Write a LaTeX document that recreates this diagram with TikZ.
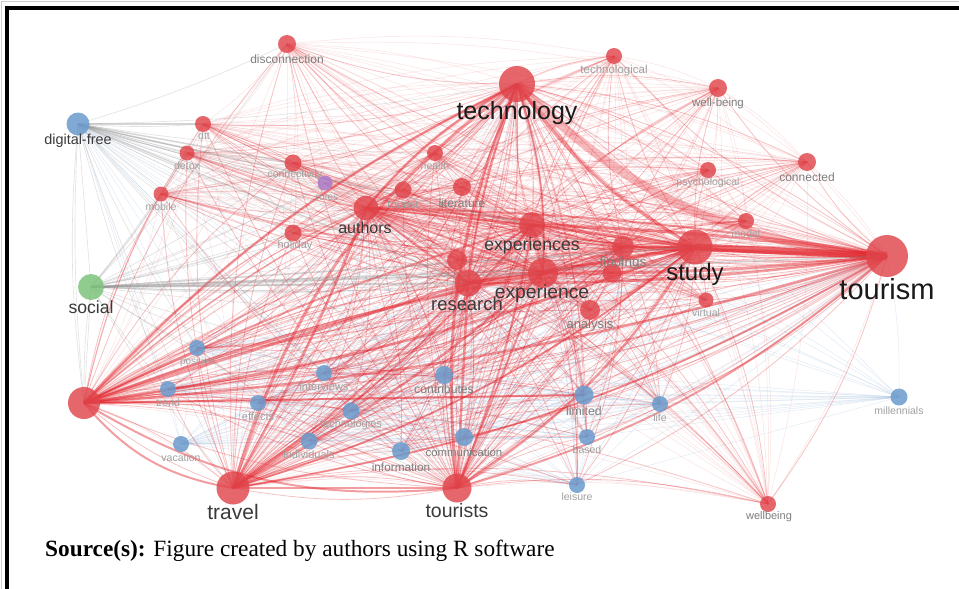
\documentclass[tikz,border=0pt]{standalone}
\usepackage{fontspec}
\setmainfont{Liberation Serif}
\setsansfont{Liberation Sans}
\usetikzlibrary{backgrounds}
\definecolor{nred}{HTML}{E0454B}
\definecolor{ered}{HTML}{E3262E}
\definecolor{nblue}{HTML}{6A9BCD}
\definecolor{eblue}{HTML}{8FB3D9}
\definecolor{ngreen}{HTML}{7CC47A}
\definecolor{npurple}{HTML}{A97BC9}
\definecolor{egray}{HTML}{8A8A8A}
\definecolor{labgray}{HTML}{A0A0A0}
\definecolor{labmid}{HTML}{7E7E7E}
\definecolor{labdark}{HTML}{3A3A3A}
\definecolor{labblack}{HTML}{1A1A1A}
\tikzset{
  rn/.style={circle, fill=nred, fill opacity=0.82, draw=none, inner sep=0pt, minimum size=#1},
  bn/.style={circle, fill=nblue, fill opacity=0.85, draw=none, inner sep=0pt, minimum size=#1},
  gn/.style={circle, fill=ngreen, fill opacity=0.85, draw=none, inner sep=0pt, minimum size=#1},
  pn/.style={circle, fill=npurple, fill opacity=0.85, draw=none, inner sep=0pt, minimum size=#1},
  lab/.style={inner sep=0pt, anchor=center, text=labgray, font=\sffamily\fontsize{#1}{#1}\selectfont},
  labm/.style={inner sep=0pt, anchor=center, text=labmid, font=\sffamily\fontsize{#1}{#1}\selectfont},
  labd/.style={inner sep=0pt, anchor=center, text=labdark, font=\sffamily\fontsize{#1}{#1}\selectfont},
  labb/.style={inner sep=0pt, anchor=center, text=labblack, font=\sffamily\fontsize{#1}{#1}\selectfont},
  efaint/.style={draw=ered, line width=0.5pt, draw opacity=0.13},
  ehub/.style={draw=ered, line width=0.8pt, draw opacity=0.28},
  eblu/.style={draw=eblue, line width=0.5pt, draw opacity=0.25},
  egry/.style={draw=egray, line width=0.6pt, draw opacity=0.25},
  eheavy/.style={draw=ered, line width=#1, draw opacity=0.45},
  egheavy/.style={draw=egray, line width=#1, draw opacity=0.35},
}
\begin{document}
\begin{tikzpicture}[x=1pt,y=-1pt]
\useasboundingbox (0,0) rectangle (959,589);

% red nodes
\node[rn=18] (disc) at (287,44) {};
\node[rn=16] (dtt) at (203,124) {};
\node[rn=15] (detox) at (187,153) {};
\node[rn=15] (mobile) at (161,194) {};
\node[rn=17] (conn) at (293,163) {};
\node[rn=17] (holiday) at (293,233) {};
\node[rn=25] (authors) at (366,208) {};
\node[rn=17] (tourist) at (403,190) {};
\node[rn=16] (health) at (435,153) {};
\node[rn=18] (lit) at (462,187) {};
\node[rn=36] (tech) at (517,84) {};
\node[rn=16] (techl) at (614,56) {};
\node[rn=18] (wb) at (718,88) {};
\node[rn=16] (psy) at (708,170) {};
\node[rn=18] (cond) at (807,162) {};
\node[rn=16] (model) at (746,221) {};
\node[rn=26] (exps) at (532,225) {};
\node[rn=20] (rr1) at (457,260) {};
\node[rn=27] (research) at (468,283) {};
\node[rn=30] (exp) at (543,273) {};
\node[rn=22] (findings) at (623,247) {};
\node[rn=19] (ff2) at (612,273) {};
\node[rn=35] (study) at (695,247) {};
\node[rn=15] (virtual) at (706,300) {};
\node[rn=20] (analysis) at (590,310) {};
\node[rn=42] (tourism) at (887,256) {};
\node[rn=32] (dig) at (84,403) {};
\node[rn=33] (travel) at (233,488) {};
\node[rn=29] (tourists) at (457,488) {};
\node[rn=16] (wellb) at (768,504) {};
\node[pn=15] (roles) at (325,183) {};
% blue nodes
\node[bn=23] (dfree) at (78,124) {};
\node[bn=16] (positive) at (197,348) {};
\node[bn=16] (trend) at (168,389) {};
\node[bn=16] (effects) at (258,403) {};
\node[bn=16] (interviews) at (324,373) {};
\node[bn=17] (technologies) at (351,411) {};
\node[bn=17] (individuals) at (309,441) {};
\node[bn=16] (vacation) at (181,444) {};
\node[bn=18] (information) at (401,451) {};
\node[bn=18] (communication) at (464,437) {};
\node[bn=18] (contributes) at (444,375) {};
\node[bn=19] (limited) at (584,395) {};
\node[bn=16] (based) at (587,437) {};
\node[bn=16] (leisure) at (577,485) {};
\node[bn=16] (life) at (660,404) {};
\node[bn=17] (mill) at (899,397) {};
% green
\node[gn=26] (social) at (91,287) {};

% labels
\node[labm=12] (l-disc) at (287,59) {disconnection};
\node[lab=10.5] (l-dtt) at (204,136) {dtt};
\node[lab=10.5] (l-detox) at (187,166) {detox};
\node[lab=10.5] (l-mobile) at (161,207) {mobile};
\node[lab=10.5] (l-conn) at (295,175) {connectivity};
\node[lab=10.5] (l-roles) at (327,197) {roles};
\node[lab=11] (l-holiday) at (295,246) {holiday};
\node[labd=16] (l-authors) at (365,228) {authors};
\node[lab=11.5] (l-tourist) at (403,204) {tourist};
\node[lab=10.5] (l-health) at (435,166) {health};
\node[labm=12] (l-lit) at (462,203) {literature};
\node[labb=25] (l-tech) at (517,113) {technology};
\node[lab=11.5] (l-techl) at (614,71) {technological};
\node[labm=11.5] (l-wb) at (718,104) {well-being};
\node[lab=10.5] (l-psy) at (708,183) {psychological};
\node[labm=12] (l-cond) at (807,177) {connected};
\node[lab=10.5] (l-model) at (746,234) {model};
\node[labd=17.7] (l-exps) at (532,246) {experiences};
\node[labd=18.4] (l-research) at (467,304) {research};
\node[labd=19.3] (l-exp) at (542,294) {experience};
\node[labm=13.6] (l-findings) at (623,263) {findings};
\node[labb=24] (l-study) at (695,274) {study};
\node[lab=10.5] (l-virtual) at (706,313) {virtual};
\node[labm=13] (l-analysis) at (590,325) {analysis};
\node[labb=29] (l-tourism) at (887,289) {tourism};
\node[labd=21] (l-travel) at (233,512) {travel};
\node[labd=19.5] (l-tourists) at (457,511) {tourists};
\node[labm=11] (l-wellb) at (769,517) {wellbeing};
\node[labd=14.4] (l-dfree) at (78,141) {digital-free};
\node[lab=10] (l-positive) at (197,362) {positive};
\node[lab=10.5] (l-trend) at (168,403) {trend};
\node[lab=11] (l-effects) at (258,417) {effects};
\node[lab=11] (l-interviews) at (324,387) {interviews};
\node[lab=11] (l-technologies) at (351,425) {technologies};
\node[lab=11] (l-individuals) at (309,455) {individuals};
\node[lab=10.5] (l-vacation) at (181,458) {vacation};
\node[labm=11.8] (l-information) at (401,467) {information};
\node[labm=11.4] (l-communication) at (464,452) {communication};
\node[labm=12.2] (l-contributes) at (444,389) {contributes};
\node[labm=12.3] (l-limited) at (584,411) {limited};
\node[lab=10.5] (l-based) at (587,450) {based};
\node[lab=10.5] (l-leisure) at (577,497) {leisure};
\node[lab=10.5] (l-life) at (660,418) {life};
\node[lab=10.5] (l-mill) at (899,411) {millennials};
\node[labd=17.6] (l-social) at (91,307) {social};

% caption
\node[anchor=base west, inner sep=0pt, font=\rmfamily\fontsize{23.3}{26}\selectfont] (cap) at (45,556) {\textbf{Source(s):} Figure created by authors using R software};

% frame
\draw[black!20, line width=1pt] (1,589) -- (1,1) -- (959,1);
\draw[black, line width=4pt] (7,589) -- (7,8) -- (959,8);

\begin{scope}[on background layer]
\fill[white] (0,0) rectangle (959,589);
% faint red mesh
\foreach \a [count=\i] in {disc,dtt,detox,mobile,conn,holiday,authors,tourist,health,lit,tech,techl,wb,psy,cond,model,exps,rr1,research,exp,findings,ff2,study,virtual,analysis,tourism,dig,travel,tourists,wellb,roles}{
  \foreach \b [count=\j] in {disc,dtt,detox,mobile,conn,holiday,authors,tourist,health,lit,tech,techl,wb,psy,cond,model,exps,rr1,research,exp,findings,ff2,study,virtual,analysis,tourism,dig,travel,tourists,wellb,roles}{
    \ifnum\j>\i \draw[efaint] (\a.center) to[bend left=8] (\b.center); \fi
  }
}
% faint blue mesh
\foreach \a [count=\i] in {dfree,positive,trend,effects,interviews,technologies,individuals,vacation,information,communication,contributes,limited,based,leisure,life,mill}{
  \foreach \b [count=\j] in {dfree,positive,trend,effects,interviews,technologies,individuals,vacation,information,communication,contributes,limited,based,leisure,life,mill}{
    \ifnum\j>\i \draw[eblu] (\a.center) -- (\b.center); \fi
  }
}
% blue to red hubs
\foreach \a in {positive,trend,effects,interviews,technologies,individuals,vacation,information,communication,contributes,limited,based,leisure,life,mill}{
  \foreach \b in {tourism,study,tech,exp,research,exps,authors,findings}{
    \draw[eblu] (\a.center) to[bend right=6] (\b.center);
  }
}
% gray from social and digital-free
\foreach \a in {social,dfree}{
  \foreach \b in {disc,dtt,detox,mobile,conn,holiday,authors,tourist,health,lit,tech,exps,rr1,research,exp,findings,ff2,study,analysis,tourism,dig,travel,tourists,roles,positive,trend,interviews,contributes}{
    \draw[egry] (\a.center) to[bend right=4] (\b.center);
  }
}
\draw[egry] (dfree.center) -- (social.center);
\draw[egry] (dfree.center) to[bend right=6] (dig.center);
\draw[egry] (social.center) -- (dig.center);
% red hubs
\foreach \a in {tourism,study,tech,travel,tourists,dig,exp,research,exps,authors,findings}{
  \foreach \b in {disc,dtt,detox,mobile,conn,holiday,authors,tourist,health,lit,tech,techl,wb,psy,cond,model,exps,rr1,research,exp,findings,ff2,study,virtual,analysis,tourism,dig,travel,tourists,wellb,positive,trend,effects,interviews,technologies,individuals,information,communication,contributes,limited,based,leisure,life}{
    \draw[ehub] (\a.center) to[bend left=10] (\b.center);
  }
}
% heavy edges
\draw[eheavy=7pt, draw opacity=0.7] (tourism.center) -- (study.center);
\draw[eheavy=3.5pt] (tourism.center) -- (findings.center);
\draw[eheavy=3pt] (tourism.center) to[bend right=3] (exps.center);
\draw[eheavy=3pt] (tourism.center) to[bend left=3] (exp.center);
\draw[eheavy=2.5pt] (tourism.center) to[bend left=4] (research.center);
\draw[eheavy=2pt] (tourism.center) to[bend right=4] (authors.center);
\draw[eheavy=9pt, draw opacity=0.3] (tech.center) to[bend right=20] (tourism.center);
\draw[eheavy=2pt] (tourism.center) to[bend left=10] (travel.center);
\draw[eheavy=2pt] (tourism.center) to[bend left=12] (tourists.center);
\draw[eheavy=2.5pt] (tourism.center) to[bend left=6] (dig.center);
\draw[eheavy=3pt] (study.center) to[bend left=12] (tech.center);
\draw[eheavy=3pt] (study.center) -- (exp.center);
\draw[eheavy=2.5pt] (study.center) -- (research.center);
\draw[eheavy=3pt] (study.center) -- (exps.center);
\draw[eheavy=2.5pt] (study.center) to[bend left=6] (dig.center);
\draw[eheavy=2pt] (study.center) to[bend left=10] (travel.center);
\draw[eheavy=2.5pt] (study.center) to[bend left=12] (tourists.center);
\draw[eheavy=2pt] (study.center) to[bend right=4] (authors.center);
\draw[eheavy=3pt] (travel.center) to[bend left=18] (tech.center);
\draw[eheavy=3pt] (tourists.center) to[bend left=14] (tech.center);
\draw[eheavy=2.5pt] (authors.center) to[bend left=10] (tech.center);
\draw[eheavy=2pt] (exp.center) to[bend right=10] (tech.center);
\draw[eheavy=2pt] (research.center) to[bend left=6] (tech.center);
\draw[eheavy=2.5pt] (dig.center) to[bend left=10] (tech.center);
\draw[eheavy=2pt] (dig.center) to[bend right=20] (travel.center);
\draw[eheavy=2pt] (dig.center) to[bend right=18] (tourists.center);
\draw[eheavy=3pt] (dig.center) to[bend left=4] (exp.center);
\draw[eheavy=3pt] (dig.center) -- (research.center);
\draw[eheavy=2pt] (dig.center) to[bend left=4] (exps.center);
\draw[eheavy=1.5pt] (dig.center) to[bend left=6] (authors.center);
\draw[eheavy=2pt, draw opacity=0.6] (dig.center) -- (limited.center);
\draw[eheavy=2.5pt] (travel.center) -- (tourists.center);
\draw[eheavy=2.5pt] (travel.center) to[bend right=6] (exp.center);
\draw[eheavy=2pt] (travel.center) to[bend right=6] (research.center);
\draw[eheavy=2.5pt] (travel.center) to[bend right=4] (authors.center);
\draw[eheavy=2pt] (travel.center) to[bend right=8] (exps.center);
\draw[eheavy=2pt] (tourists.center) -- (exp.center);
\draw[eheavy=2.5pt] (tourists.center) -- (research.center);
\draw[eheavy=2pt] (tourists.center) to[bend right=6] (exps.center);
\draw[eheavy=2pt] (authors.center) -- (exps.center);
\draw[eheavy=2pt] (authors.center) -- (exp.center);
\draw[eheavy=2pt] (authors.center) -- (research.center);
\draw[eheavy=2pt] (exps.center) -- (exp.center);
\draw[eheavy=2.5pt] (research.center) -- (exp.center);
\draw[eheavy=2.5pt] (findings.center) -- (study.center);
\draw[eheavy=2pt] (findings.center) -- (exp.center);
\draw[egheavy=2pt] (social.center) -- (research.center);
\draw[egheavy=2pt] (social.center) -- (exp.center);
\draw[egheavy=1.5pt] (social.center) -- (study.center);
\draw[egheavy=1.5pt] (social.center) -- (tourism.center);
\draw[egheavy=1.5pt] (dfree.center) -- (dtt.center);
\draw[egheavy=1.5pt] (dfree.center) -- (conn.center);
\draw[egheavy=1.2pt] (dfree.center) -- (exps.center);
\draw[egheavy=1.2pt] (dfree.center) -- (research.center);
\end{scope}
\end{tikzpicture}
\end{document}
